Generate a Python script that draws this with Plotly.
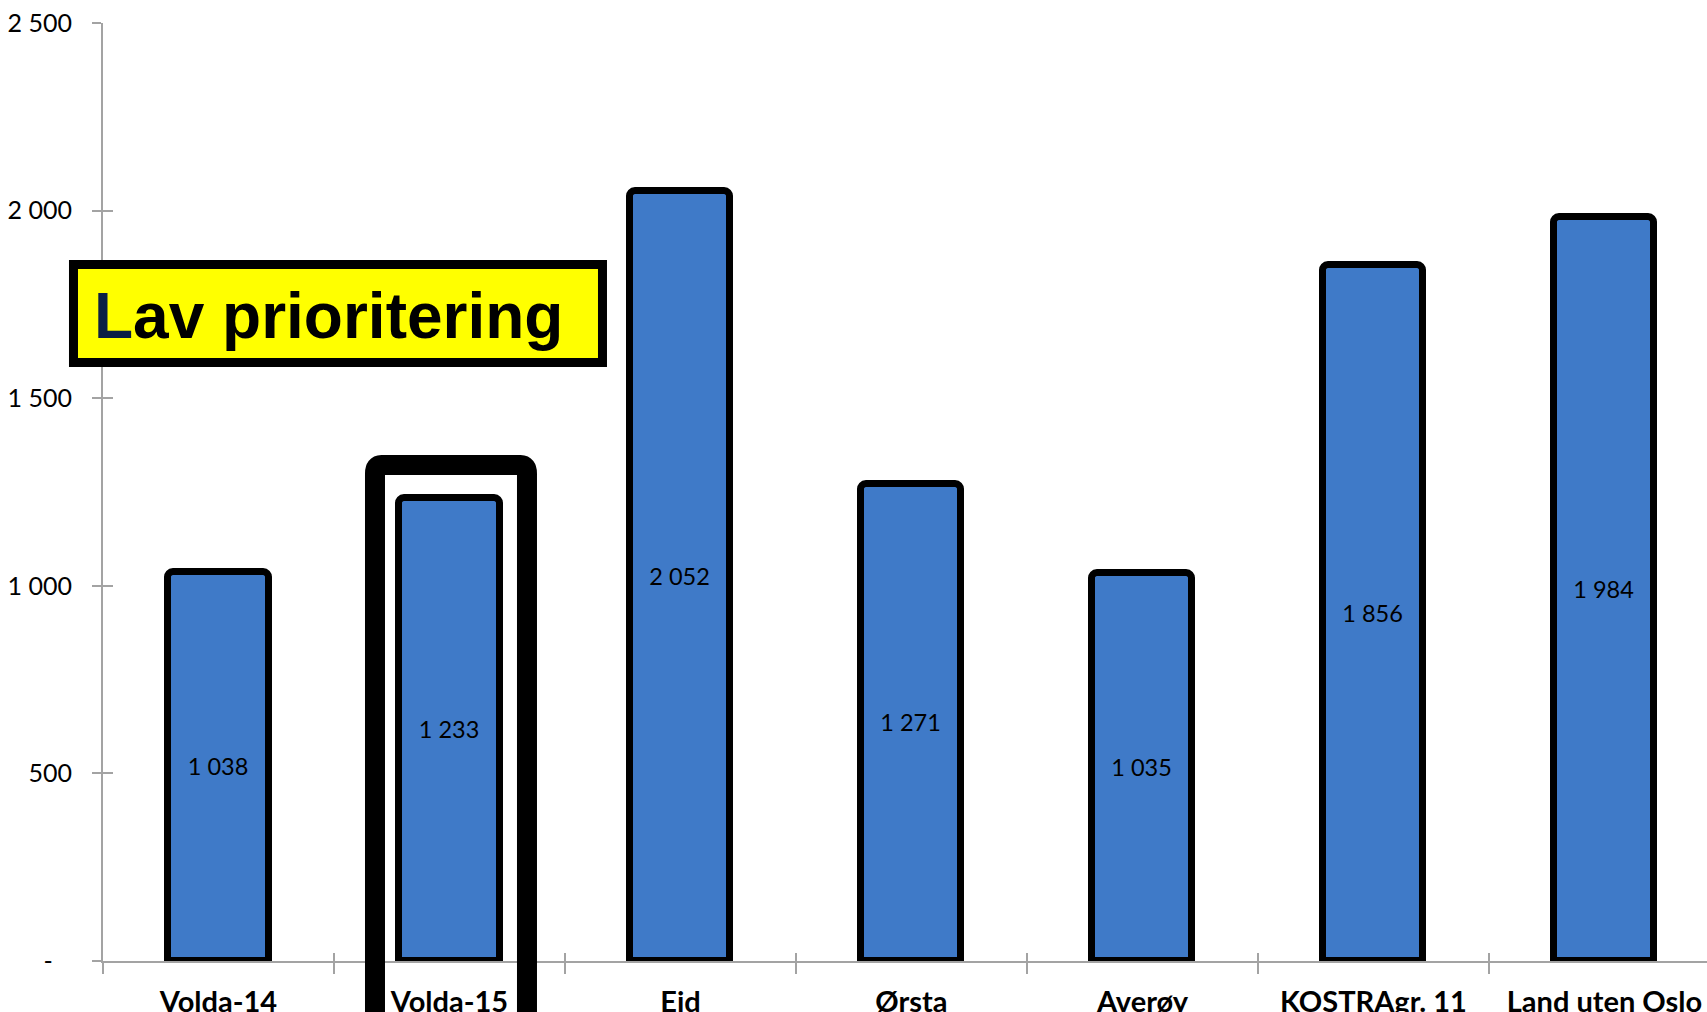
import plotly.graph_objects as go

# Categories and values
categories = ["Volda-14", "Volda-15", "Eid", "Ørsta", "Averøy", "KOSTRAgr. 11", "Land uten Oslo"]
values = [1038, 1233, 2052, 1271, 1035, 1856, 1984]
value_labels = ["1 038", "1 233", "2 052", "1 271", "1 035", "1 856", "1 984"]

y_tickvals = [0, 500, 1000, 1500, 2000, 2500]
y_ticktext = ["-\u00a0\u00a0\u00a0", "500", "1 000", "1 500", "2 000", "2 500"]

highlight_index = 1          # Volda-15 gets the frame
highlight_top_value = 1322
note_text = "<span style='color:#0b1f45'>L</span>av prioritering"

W, H = 1707, 1012
ML, MR, MT, MB = 103, 0, 23, 51
X0, X1 = -0.5, 6.444
Y0, Y1 = 0, 2500

AXIS_GREY = "#a3a3a3"
BAR_BLUE = "#3f7ac8"

fig = go.Figure()

fig.add_trace(go.Bar(
    x=categories,
    y=values,
    width=0.433,
    marker=dict(color=BAR_BLUE, line=dict(color="black", width=7), cornerradius=6),
    text=value_labels,
    textposition="inside",
    insidetextanchor="middle",
    constraintext="none",
    textangle=0,
    textfont=dict(family="Lato", size=23.5, color="black"),
    hoverinfo="skip",
    showlegend=False,
))

# invisible trace carrying the secondary (inside-tick) axes
fig.add_trace(go.Scatter(x=[0], y=[0], xaxis="x2", yaxis="y2", mode="markers",
                         marker=dict(opacity=0), hoverinfo="skip", showlegend=False))

fig.update_layout(
    width=W, height=H,
    margin=dict(l=ML, r=MR, t=MT, b=MB, pad=0, autoexpand=False),
    paper_bgcolor="white", plot_bgcolor="white",
    bargap=0,
    xaxis=dict(
        type="category", range=[X0, X1], automargin=False,
        showline=True, linecolor=AXIS_GREY, linewidth=2,
        ticks="outside", tickson="boundaries", ticklen=11, tickwidth=1.5, tickcolor=AXIS_GREY,
        tickfont=dict(family="Lato", size=29, color="black", weight="bold"),
        ticklabelstandoff=14,
        showgrid=False, zeroline=False, fixedrange=True,
    ),
    yaxis=dict(
        range=[Y0, Y1], automargin=False,
        tickvals=y_tickvals, ticktext=y_ticktext,
        showline=True, linecolor=AXIS_GREY, linewidth=2,
        ticks="outside", ticklen=9, tickwidth=1.5, tickcolor=AXIS_GREY,
        tickfont=dict(family="Lato", size=25, color="black"),
        ticklabelstandoff=15,
        showgrid=False, zeroline=False, fixedrange=True,
    ),
    xaxis2=dict(
        overlaying="x", anchor="y2", range=[X0, X1], automargin=False,
        tickvals=[0.5, 1.5, 2.5, 3.5, 4.5, 5.5],
        ticks="inside", ticklen=8, tickwidth=1.5, tickcolor=AXIS_GREY,
        showticklabels=False, showline=False, showgrid=False, zeroline=False,
    ),
    yaxis2=dict(
        overlaying="y", anchor="x2", range=[Y0, Y1], automargin=False,
        tickvals=y_tickvals,
        ticks="inside", ticklen=10, tickwidth=1.5, tickcolor=AXIS_GREY,
        showticklabels=False, showline=False, showgrid=False, zeroline=False,
    ),
)


def px(v):
    return (v - X0) / (X1 - X0)


def py(v):
    return (v - Y0) / (Y1 - Y0)


# black frame around the highlighted bar, open at the bottom
fl = px(highlight_index - 0.3225)
fr = px(highlight_index + 0.3355)
ft = py(highlight_top_value)
fb = -0.2
rx, ry = 0.004, 0.009
frame_path = (f"M {fl},{fb} L {fl},{ft - ry} Q {fl},{ft} {fl + rx},{ft} "
              f"L {fr - rx},{ft} Q {fr},{ft} {fr},{ft - ry} L {fr},{fb}")
fig.add_shape(type="path", xref="paper", yref="paper", path=frame_path,
              line=dict(color="black", width=20), layer="above")

# yellow note box
fig.add_shape(type="rect", xref="paper", yref="paper",
              x0=-0.0184, x1=0.3114, y0=0.6381, y1=0.7425,
              fillcolor="#ffff00", line=dict(color="black", width=9), layer="above")
fig.add_annotation(
    xref="paper", yref="paper", x=-0.0071, y=0.688,
    xanchor="left", yanchor="middle", showarrow=False,
    text=note_text,
    font=dict(family="Liberation Sans", size=64, color="black", weight="bold"),
)

fig.write_html("out.html", config={"displayModeBar": False})
